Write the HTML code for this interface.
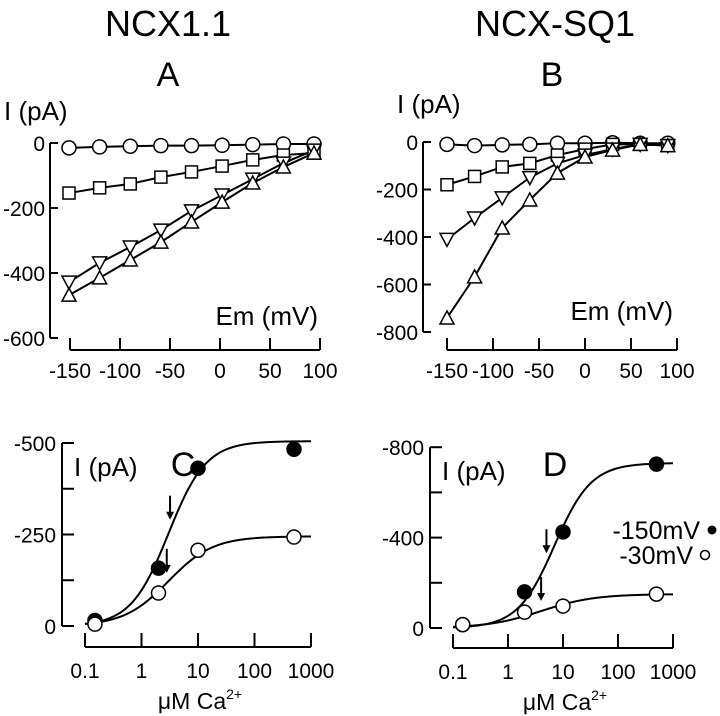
<!DOCTYPE html>
<html><head><meta charset="utf-8"><style>
body{margin:0;background:#fff}
svg{display:block;font-family:"Liberation Sans",Arial,sans-serif}
</style></head><body>
<svg id="fig" width="720" height="716" viewBox="0 0 720 716" xmlns="http://www.w3.org/2000/svg">
<text x="168" y="36" font-size="36" text-anchor="middle">NCX1.1</text>
<text x="555" y="36" font-size="36" text-anchor="middle">NCX-SQ1</text>
<text x="168" y="86" font-size="34" text-anchor="middle">A</text>
<text x="552" y="86" font-size="34" text-anchor="middle">B</text>
<text x="183" y="476" font-size="34" text-anchor="middle">C</text>
<text x="555" y="476" font-size="34" text-anchor="middle">D</text>
<g id="root"></g>
</svg>
<script>
// ---- Panel A / B data (Em in mV, I in pA) ----
const emValues = [-150,-120,-90,-60,-30,0,30,60,90];
const emTicks = [-150,-100,-50,0,50,100];
const aCircle = [-15,-12,-10,-8,-8,-7,-5,-3,-3];
const aSquare = [-154,-138,-126,-105,-89,-71,-52,-37,-31];
const aDown = [-428,-369,-320,-268,-209,-160,-111,-62,-22];
const aUp = [-468,-415,-360,-305,-243,-182,-123,-74,-31];
const aYTicks = [0,-200,-400,-600];
const bCircle = [-10,-15,-12,-10,-5,-5,-3,-5,-5];
const bSquare = [-180,-145,-105,-90,-55,-30,-10,-10,-15];
const bDown = [-410,-320,-235,-150,-90,-55,-30,-10,-15];
const bUp = [-741,-568,-362,-244,-131,-63,-34,-10,-15];
const bYTicks = [0,-200,-400,-600,-800];
// ---- Panel C / D data (Ca in uM, I in pA magnitude) ----
const caValues = [0.15,2,10,500];
const caTicks = [0.1,1,10,100,1000];
const cFilled = [15,158,431,483];
const cOpen = [5,90,207,243];
const cFilledFit = [505,3,1.3]; // Imax, K, n
const cOpenFit = [245,3,1.1];
const cArrows = [3.2,2.8];
const cYTicks = [0,125,250,375,500];
const cYLabels = ["0","","-250","","-500"];
const dFilled = [15,160,425,725];
const dOpen = [15,70,97,150];
const dFilledFit = [730,7,1.3];
const dOpenFit = [150,4,0.9];
const dArrows = [5,4];
const dYTicks = [0,200,400,600,800];
const dYLabels = ["0","","-400","","-800"];

const NS="http://www.w3.org/2000/svg";
const root=document.getElementById('root');
function mk(tag,attrs,parent){const e=document.createElementNS(NS,tag);for(const k in attrs)e.setAttribute(k,attrs[k]);(parent||root).appendChild(e);return e;}
function line(x1,y1,x2,y2,w){return mk('line',{x1,y1,x2,y2,stroke:'#000','stroke-width':w||2});}
function txt(x,y,s,size,anchor){const t=mk('text',{x,y,'font-size':size,'text-anchor':anchor||'middle'});t.textContent=s;return t;}
function marker(type,x,y){
  let e;
  if(type==='circle') e=mk('circle',{cx:x,cy:y,r:7,fill:'#fff',stroke:'#000','stroke-width':1.5});
  else if(type==='fcircle') e=mk('circle',{cx:x,cy:y,r:7,fill:'#000',stroke:'#000','stroke-width':1.5});
  else if(type==='square') e=mk('rect',{x:x-6,y:y-6,width:12,height:12,fill:'#fff',stroke:'#000','stroke-width':1.5});
  else if(type==='up') e=mk('polygon',{points:`${x},${y-7} ${x-7},${y+6} ${x+7},${y+6}`,fill:'#fff',stroke:'#000','stroke-width':1.5});
  else e=mk('polygon',{points:`${x},${y+7} ${x-7},${y-6} ${x+7},${y-6}`,fill:'#fff',stroke:'#000','stroke-width':1.5});
  return e;
}
function ivPanel(name,sx,sy,yTicks,series,axX,xAxisY,ylabX,ylabY,emX,emY){
  const ya=line(axX,sy(yTicks[0]),axX,sy(yTicks[yTicks.length-1]));
  
  
  yTicks.forEach(v=>{line(axX,sy(v),axX+8,sy(v));const t=txt(axX-5,sy(v)+8,String(v),21,'end');
    
    });
  const xa=line(sx(emTicks[0]),xAxisY,sx(emTicks[emTicks.length-1]),xAxisY);
  
  
  emTicks.forEach(v=>{line(sx(v),xAxisY,sx(v),xAxisY-12);const t=txt(sx(v),xAxisY+28,String(v),21);
    
    });
  const yl=txt(ylabX,ylabY,'I (pA)',26,'start');
  
  
  const xl=txt(emX,emY,'Em (mV)',26,'end');
  
  
  series.forEach(([vals,type])=>{
    const pts=vals.map((v,i)=>sx(emValues[i])+','+sy(v)).join(' ');
    const pl=mk('polyline',{points:pts,fill:'none',stroke:'#000','stroke-width':2});
    
    
  });
  series.forEach(([vals,type])=>{vals.forEach((v,i)=>{const m=marker(type,sx(emValues[i]),sy(v));
    
    });});
}
// Panel A
(function(){
  const sx=v=>69+(v+150)*245/240, sy=v=>143-v*65/200;
  ivPanel('panel-a',v=>70+(v+150)*1.0,sy,aYTicks,[],50,350,4,120,318,325);
  const s=[[aCircle,'circle'],[aSquare,'square'],[aDown,'down'],[aUp,'up']];
  s.forEach(([vals,type])=>{const pl=mk('polyline',{points:vals.map((v,i)=>sx(emValues[i])+','+sy(v)).join(' '),fill:'none',stroke:'#000','stroke-width':2});
    
    });
  s.forEach(([vals,type])=>vals.forEach((v,i)=>{const m=marker(type,sx(emValues[i]),sy(v));
    
    }));
})();
// Panel B
(function(){
  const sx=v=>447+(v+150)*0.92, sy=v=>142-v*47.5/200;
  ivPanel('panel-b',sx,sy,bYTicks,[[bCircle,'circle'],[bSquare,'square'],[bDown,'down'],[bUp,'up']],423,350,397,113,673,320);
})();
function hill(p,x){return p[0]/(1+Math.pow(p[1]/x,p[2]));}
function caPanel(name,x0,dec,axX,y0,k,yTicks,yLabels,filled,open,ff,of,arrows,xAxisY){
  const sx=v=>x0+Math.log10(v/0.1)*dec, sy=v=>y0-v*k;
  const ya=line(axX,sy(yTicks[0]),axX,sy(yTicks[yTicks.length-1]));
  
  
  yTicks.forEach((v,i)=>{line(axX,sy(v),axX+12,sy(v));if(yLabels[i]){const t=txt(axX-6,sy(v)+8,yLabels[i],21,'end');
    
    }});
  const xa=line(sx(caTicks[0]),xAxisY,sx(caTicks[caTicks.length-1]),xAxisY);
  
  
  caTicks.forEach(v=>{line(sx(v),xAxisY,sx(v),xAxisY-14);const t=txt(sx(v),xAxisY+31,String(v),21);
    
    });
  const xl=txt(sx(10)+2,xAxisY+62,'μM Ca',23);
  
  
  const sup=mk('tspan',{'font-size':14,dy:-10},xl);sup.textContent='2+';
  const yl=txt(axX+12,sy(yTicks[yTicks.length-1])+33,'I (pA)',26,'start');
  
  
  [[ff,'filled'],[of,'open']].forEach(([p,t])=>{
    let pts=[];for(let i=0;i<=120;i++){const lx=-1+i*4/120;const x=Math.pow(10,lx);pts.push(sx(x)+','+sy(hill(p,x)));}
    const pl=mk('polyline',{points:pts.join(' '),fill:'none',stroke:'#000','stroke-width':2});
    
    
  });
  [[ff,arrows[0]],[of,arrows[1]]].forEach(([p,a])=>{
    const x=sx(a),y=sy(hill(p,a))-12;
    const g=mk('g',{});
    
    
    mk('line',{x1:x,y1:y-22,x2:x,y2:y,stroke:'#000','stroke-width':2},g);
    mk('polygon',{points:`${x-4},${y-6} ${x+4},${y-6} ${x},${y+2}`,fill:'#000'},g);
  });
  filled.forEach((v,i)=>{const m=marker('fcircle',sx(caValues[i]),sy(v));
    
    });
  open.forEach((v,i)=>{const m=marker('circle',sx(caValues[i]),sy(v));
    
    });
}
caPanel('panel-c',85,56.5,62,626,0.366,cYTicks,cYLabels,cFilled,cOpen,cFilledFit,cOpenFit,cArrows,647);
caPanel('panel-d',453,55,430,628,0.226,dYTicks,dYLabels,dFilled,dOpen,dFilledFit,dOpenFit,dArrows,648);
// legend
const l1=txt(700,539,'-150mV',25,'end');


const l2=txt(693,564,'-30mV',25,'end');


const d1=mk('circle',{cx:712,cy:530,r:4.5,fill:'#000'});


const d2=mk('circle',{cx:705,cy:555,r:4.5,fill:'#fff',stroke:'#000','stroke-width':1.5});


</script>
</body></html>
